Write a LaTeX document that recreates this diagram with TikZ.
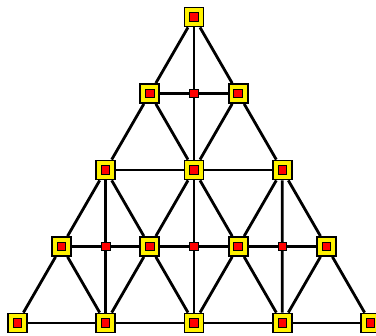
\documentclass[tikz,border=0pt]{standalone}
\usetikzlibrary{backgrounds,calc}
\begin{document}
\begin{tikzpicture}[x=1pt,y=-1pt,
    vtx/.style={rectangle,draw=black,fill=yellow,line width=1.8pt,minimum size=19pt,inner sep=0pt},
    core/.style={rectangle,draw=black,fill=red,line width=1pt,minimum size=8.5pt,inner sep=0pt},
    midpt/.style={rectangle,draw=black,fill=red,line width=0.8pt,minimum size=8.5pt,inner sep=0pt},
    edge/.style={draw=black,line width=2.8pt}
  ]
  \useasboundingbox (0,0) rectangle (376,336);
  % lattice vertices, row r has r+1 of them
  \foreach \r in {0,...,4}
    \foreach \i in {0,...,\r} {
      \node[vtx] (v-\r-\i) at ({194+(\i-\r/2)*88.3},{17+\r*76.5}) {};
      \node[core] at (v-\r-\i) {};
    }
  % midpoints where the medians cross
  \node[midpt] (mtop) at ($(v-1-0)!0.5!(v-1-1)$) {};
  \node[midpt] (mleft) at ($(v-3-0)!0.5!(v-3-1)$) {};
  \node[midpt] (mcentre) at ($(v-3-1)!0.5!(v-3-2)$) {};
  \node[midpt] (mright) at ($(v-3-2)!0.5!(v-3-3)$) {};
  \begin{scope}[on background layer]
    \foreach \r/\s in {0/1,1/2,2/3,3/4}
      \foreach \i in {0,...,\r} {
        \pgfmathtruncatemacro\j{\i+1}
        \draw[edge] (v-\s-\i) -- (v-\r-\i) -- (v-\s-\j);
      }
    \foreach \r in {1,...,4}
      \foreach \i in {1,...,\r} {
        \pgfmathtruncatemacro\h{\i-1}
        \draw[edge] (v-\r-\h) -- (v-\r-\i);
      }
    \draw[edge] (v-0-0) -- (mtop) -- (v-2-1) -- (mcentre) -- (v-4-2);
    \draw[edge] (v-2-0) -- (mleft) -- (v-4-1);
    \draw[edge] (v-2-2) -- (mright) -- (v-4-3);
  \end{scope}
\end{tikzpicture}
\end{document}
